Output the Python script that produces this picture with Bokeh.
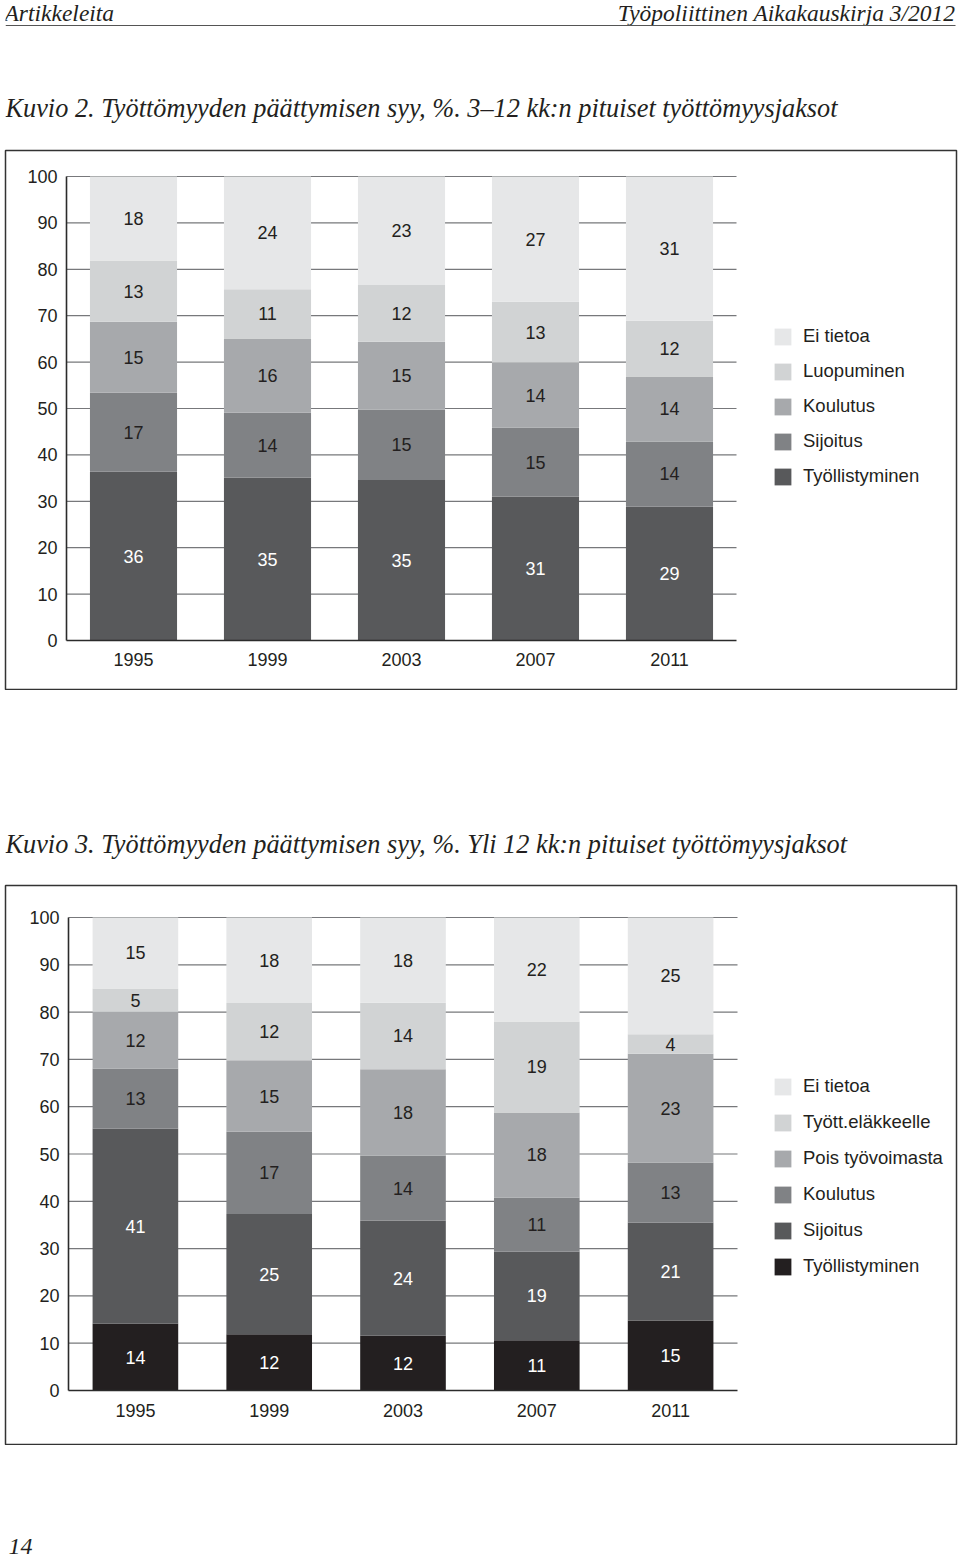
from bokeh.plotting import figure
from bokeh.layouts import column
from bokeh.models import (ColumnDataSource, FixedTicker, Legend, LegendItem,
                          Range1d, LinearAxis)
from bokeh.core.properties import value
from bokeh.embed import file_html
from bokeh.resources import INLINE

# ---------------- data ----------------
years = ["1995", "1999", "2003", "2007", "2011"]
y_ticks = [0, 10, 20, 30, 40, 50, 60, 70, 80, 90, 100]

# Kuvio 2 (3-12 kk), bottom -> top
k2_names = ["Työllistyminen", "Sijoitus", "Koulutus", "Luopuminen", "Ei tietoa"]
k2_tyollistyminen = [36.4, 35.1, 34.6, 31.0, 28.9]
k2_sijoitus = [17.0, 14.0, 15.2, 14.9, 14.0]
k2_koulutus = [15.3, 16.0, 14.6, 14.0, 14.0]
k2_luopuminen = [13.2, 10.6, 12.2, 13.1, 12.0]
k2_ei_tietoa = [18.1, 24.3, 23.4, 27.0, 31.1]
k2_lab_tyollistyminen = [36, 35, 35, 31, 29]
k2_lab_sijoitus = [17, 14, 15, 15, 14]
k2_lab_koulutus = [15, 16, 15, 14, 14]
k2_lab_luopuminen = [13, 11, 12, 13, 12]
k2_lab_ei_tietoa = [18, 24, 23, 27, 31]
k2_colors = ["#58595b", "#808285", "#a7a9ac", "#d1d3d4", "#e6e7e8"]
k2_text_colors = ["#ffffff", "#231f20", "#231f20", "#231f20", "#231f20"]

# Kuvio 3 (yli 12 kk), bottom -> top
k3_names = ["Työllistyminen", "Sijoitus", "Koulutus", "Pois työvoimasta",
            "Tyött.eläkkeelle", "Ei tietoa"]
k3_tyollistyminen = [14.1, 11.9, 11.6, 10.6, 14.8]
k3_sijoitus = [41.3, 25.4, 24.3, 18.8, 20.7]
k3_koulutus = [12.7, 17.4, 13.8, 11.4, 12.7]
k3_pois = [12.0, 15.1, 18.2, 18.0, 23.0]
k3_elakkeelle = [4.9, 12.1, 14.1, 19.2, 4.1]
k3_ei_tietoa = [15.0, 18.1, 18.0, 22.0, 24.7]
k3_lab_tyollistyminen = [14, 12, 12, 11, 15]
k3_lab_sijoitus = [41, 25, 24, 19, 21]
k3_lab_koulutus = [13, 17, 14, 11, 13]
k3_lab_pois = [12, 15, 18, 18, 23]
k3_lab_elakkeelle = [5, 12, 14, 19, 4]
k3_lab_ei_tietoa = [15, 18, 18, 22, 25]
k3_colors = ["#231f20", "#58595b", "#808285", "#a7a9ac", "#d1d3d4", "#e6e7e8"]
k3_text_colors = ["#ffffff", "#ffffff", "#231f20", "#231f20", "#231f20", "#231f20"]

SANS = "Liberation Sans"
SERIF = "Liberation Serif"
INK = "#231f20"
W = 960
BL, BR = 5, 4          # left / right border of every figure (frames aligned)
FX0, FX1 = BL, W - BR  # frame x extent in page pixels


def text_fig(h):
    p = figure(width=W, height=h, x_range=Range1d(FX0, FX1), y_range=Range1d(h, 0),
               min_border=0, min_border_left=BL, min_border_right=BR,
               toolbar_location=None, output_backend="svg",
               x_axis_location=None, y_axis_location=None,
               outline_line_color=None, border_fill_color="white",
               background_fill_color="white")
    p.grid.visible = False
    return p


def serif_text(p, x, y, s, size, align="left"):
    p.text(x=[x], y=[y], text=[s], text_font=value(SERIF),
           text_font_style="italic", text_font_size=size, text_color=INK,
           text_align=align, text_baseline="alphabetic")


def chart(h, top, names, series, labels, colors, tcolors, bar_w,
          px_left, unit_px, y0_page, k, leg_loc, leg_spacing, x_standoff):
    n = len(years)
    xr = Range1d((FX0 - px_left) / unit_px - 0.5, (FX1 - px_left) / unit_px - 0.5)
    yr = Range1d((y0_page - (top + h - 1)) / k, (y0_page - (top + 1)) / k)
    p = figure(width=W, height=h, x_range=xr, y_range=yr,
               toolbar_location=None, output_backend="svg",
               x_axis_location=None, y_axis_location=None,
               min_border=0, min_border_left=BL, min_border_right=BR,
               min_border_top=1, min_border_bottom=1,
               outline_line_color="#333333", outline_line_width=1.5,
               border_fill_color="white", background_fill_color="white")
    p.grid.visible = False

    # horizontal grid lines (behind the bars)
    gy = [t for t in y_ticks if t > 0]
    p.segment(x0=[-0.5] * len(gy), x1=[n - 0.5] * len(gy), y0=gy, y1=gy,
              line_color="#77787b", line_width=1.2)

    data = {"xi": list(range(n)), "year": years}
    keys = []
    for i, vals in enumerate(series):
        kk = "s%d" % i
        keys.append(kk)
        data[kk] = vals
    src = ColumnDataSource(data)
    rends = p.vbar_stack(keys, x="xi", width=bar_w, color=colors,
                         line_color=None, source=src)

    # segment labels
    lx, ly, lt, lc = [], [], [], []
    for j in range(n):
        base = 0.0
        for i, vals in enumerate(series):
            lx.append(j)
            ly.append(base + vals[j] / 2.0)
            lt.append(str(labels[i][j]))
            lc.append(tcolors[i])
            base += vals[j]
    p.text(x=lx, y=ly, text=lt, text_color=lc, text_font=value(SANS),
           text_font_size="18px", text_align="center", text_baseline="middle")

    yax = LinearAxis(fixed_location=-0.5, bounds=(0, 100),
                     ticker=FixedTicker(ticks=y_ticks))
    xax = LinearAxis(fixed_location=0, bounds=(-0.5, n - 0.5),
                     ticker=FixedTicker(ticks=list(range(n))),
                     major_label_overrides={i: y for i, y in enumerate(years)})
    for ax in (xax, yax):
        ax.axis_line_color = "#2b2b2b"
        ax.axis_line_width = 1.6
        ax.major_tick_out = 0
        ax.major_tick_in = 0
        ax.minor_tick_out = 0
        ax.minor_tick_in = 0
        ax.major_label_text_font = SANS
        ax.major_label_text_font_size = "18px"
        ax.major_label_text_color = INK
    yax.major_label_standoff = 9
    xax.major_label_standoff = x_standoff
    p.add_layout(yax, "left")
    p.add_layout(xax, "below")

    items = [LegendItem(label=names[i], renderers=[rends[i]])
             for i in range(len(names) - 1, -1, -1)]
    leg = Legend(items=items, location=leg_loc, orientation="vertical",
                 border_line_color=None, background_fill_alpha=0,
                 padding=0, margin=0, spacing=leg_spacing,
                 glyph_width=21, glyph_height=21, label_height=21,
                 label_standoff=10, label_text_font=SANS,
                 label_text_font_size="18.5px", label_text_color=INK)
    p.add_layout(leg)
    return p


# header + caption 1 (page y 0..149)
head = text_fig(149)
serif_text(head, 4, 12, "Artikkeleita", "23.5px")
serif_text(head, 955, 12, "Työpoliittinen Aikakauskirja 3/2012", "23.5px", "right")
head.segment(x0=[5], y0=[25], x1=[955], y1=[25], line_color="#555555", line_width=1.2)
serif_text(head, 5, 108, "Kuvio 2. Työttömyyden päättymisen syy, %. 3–12 kk:n pituiset työttömyysjaksot", "26.3px")

# chart 1 (page y 149..690)
c1 = chart(541, 149, k2_names,
           [k2_tyollistyminen, k2_sijoitus, k2_koulutus, k2_luopuminen, k2_ei_tietoa],
           [k2_lab_tyollistyminen, k2_lab_sijoitus, k2_lab_koulutus, k2_lab_luopuminen, k2_lab_ei_tietoa],
           k2_colors, k2_text_colors, 0.65,
           66, 134.0, 640, 4.64, (767, 202), 13, 12)

# caption 2 (page y 690..884)
mid = text_fig(194)
serif_text(mid, 5, 154, "Kuvio 3. Työttömyyden päättymisen syy, %. Yli 12 kk:n pituiset työttömyysjaksot", "26.3px")

# chart 2 (page y 884..1445)
c2 = chart(561, 884, k3_names,
           [k3_tyollistyminen, k3_sijoitus, k3_koulutus, k3_pois, k3_elakkeelle, k3_ei_tietoa],
           [k3_lab_tyollistyminen, k3_lab_sijoitus, k3_lab_koulutus, k3_lab_pois, k3_lab_elakkeelle, k3_lab_ei_tietoa],
           k3_colors, k3_text_colors, 0.64,
           68, 133.8, 1390, 4.73, (767, 167), 14, 13)

# footer (page y 1445..1559)
foot = text_fig(114)
serif_text(foot, 8, 101, "14", "24px")

layout = column(head, c1, mid, c2, foot, spacing=0)

open("out.html", "w").write(file_html(layout, INLINE))
